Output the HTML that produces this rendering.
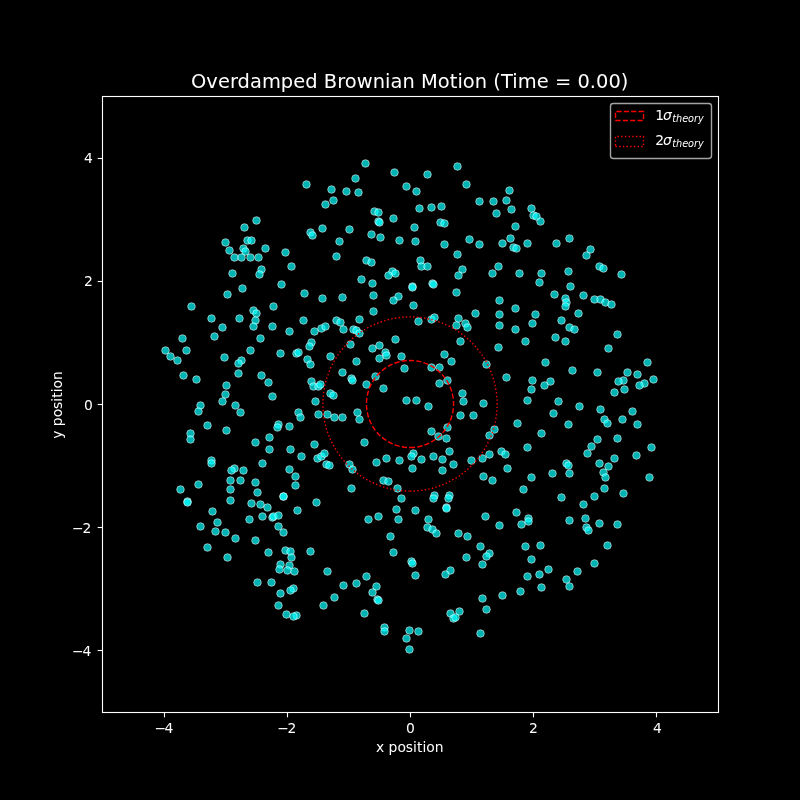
<!DOCTYPE html>
<html lang="en"><head><meta charset="utf-8"><title>Overdamped Brownian Motion</title>
<style>
html,body{margin:0;padding:0;background:#000;width:800px;height:800px;overflow:hidden}
svg{display:block}
text{font-family:"DejaVu Sans","Liberation Sans",sans-serif;fill:#fff}
.tk{font-size:13.89px}
.ob{font-style:oblique}
.sub{font-size:9.72px;font-style:oblique}
.p circle{fill:#0ff;fill-opacity:.7;stroke:#fff;stroke-opacity:.7;stroke-width:.75}
</style></head><body>
<svg width="800" height="800" viewBox="0 0 800 800">
<rect width="800" height="800" fill="#000"/>
<g class="p"><circle cx="306.5" cy="184.5" r="3.80"/><circle cx="325.5" cy="204.5" r="3.80"/><circle cx="322.5" cy="228.5" r="3.80"/><circle cx="310.5" cy="232.5" r="3.80"/><circle cx="312.5" cy="235.5" r="3.80"/><circle cx="256.5" cy="220.5" r="3.80"/><circle cx="244.5" cy="227.5" r="3.80"/><circle cx="247.5" cy="240.5" r="3.80"/><circle cx="251.5" cy="240.5" r="3.80"/><circle cx="225.5" cy="242.5" r="3.80"/><circle cx="229.5" cy="250.5" r="3.80"/><circle cx="243.5" cy="248.5" r="3.80"/><circle cx="245.5" cy="251.5" r="3.80"/><circle cx="265.5" cy="248.5" r="3.80"/><circle cx="285.5" cy="252.5" r="3.80"/><circle cx="234.5" cy="257.5" r="3.80"/><circle cx="241.5" cy="257.5" r="3.80"/><circle cx="250.5" cy="257.5" r="3.80"/><circle cx="258.5" cy="257.5" r="3.80"/><circle cx="291.5" cy="266.5" r="3.80"/><circle cx="261.5" cy="269.5" r="3.80"/><circle cx="259.5" cy="274.5" r="3.80"/><circle cx="232.5" cy="273.5" r="3.80"/><circle cx="281.5" cy="284.5" r="3.80"/><circle cx="242.5" cy="288.5" r="3.80"/><circle cx="227.5" cy="294.5" r="3.80"/><circle cx="304.5" cy="293.5" r="3.80"/><circle cx="322.5" cy="298.5" r="3.80"/><circle cx="191.5" cy="306.5" r="3.80"/><circle cx="273.5" cy="306.5" r="3.80"/><circle cx="253.5" cy="310.5" r="3.80"/><circle cx="256.5" cy="313.5" r="3.80"/><circle cx="211.5" cy="318.5" r="3.80"/><circle cx="239.5" cy="318.5" r="3.80"/><circle cx="255.5" cy="320.5" r="3.80"/><circle cx="303.5" cy="320.5" r="3.80"/><circle cx="365.5" cy="163.5" r="3.80"/><circle cx="457.5" cy="166.5" r="3.80"/><circle cx="394.5" cy="172.5" r="3.80"/><circle cx="427.5" cy="174.5" r="3.80"/><circle cx="355.5" cy="178.5" r="3.80"/><circle cx="466.5" cy="184.5" r="3.80"/><circle cx="406.5" cy="186.5" r="3.80"/><circle cx="331.5" cy="189.5" r="3.80"/><circle cx="346.5" cy="191.5" r="3.80"/><circle cx="358.5" cy="192.5" r="3.80"/><circle cx="416.5" cy="191.5" r="3.80"/><circle cx="333.5" cy="200.5" r="3.80"/><circle cx="479.5" cy="201.5" r="3.80"/><circle cx="493.5" cy="201.5" r="3.80"/><circle cx="419.5" cy="208.5" r="3.80"/><circle cx="431.5" cy="207.5" r="3.80"/><circle cx="441.5" cy="206.5" r="3.80"/><circle cx="374.5" cy="211.5" r="3.80"/><circle cx="378.5" cy="212.5" r="3.80"/><circle cx="496.5" cy="213.5" r="3.80"/><circle cx="393.5" cy="218.5" r="3.80"/><circle cx="378.5" cy="221.5" r="3.80"/><circle cx="379.5" cy="222.5" r="3.80"/><circle cx="440.5" cy="222.5" r="3.80"/><circle cx="444.5" cy="223.5" r="3.80"/><circle cx="414.5" cy="227.5" r="3.80"/><circle cx="349.5" cy="229.5" r="3.80"/><circle cx="371.5" cy="234.5" r="3.80"/><circle cx="380.5" cy="237.5" r="3.80"/><circle cx="399.5" cy="240.5" r="3.80"/><circle cx="415.5" cy="241.5" r="3.80"/><circle cx="339.5" cy="241.5" r="3.80"/><circle cx="469.5" cy="239.5" r="3.80"/><circle cx="479.5" cy="244.5" r="3.80"/><circle cx="444.5" cy="244.5" r="3.80"/><circle cx="457.5" cy="254.5" r="3.80"/><circle cx="336.5" cy="256.5" r="3.80"/><circle cx="366.5" cy="260.5" r="3.80"/><circle cx="371.5" cy="262.5" r="3.80"/><circle cx="420.5" cy="260.5" r="3.80"/><circle cx="421.5" cy="266.5" r="3.80"/><circle cx="427.5" cy="266.5" r="3.80"/><circle cx="462.5" cy="269.5" r="3.80"/><circle cx="458.5" cy="275.5" r="3.80"/><circle cx="492.5" cy="273.5" r="3.80"/><circle cx="392.5" cy="271.5" r="3.80"/><circle cx="395.5" cy="273.5" r="3.80"/><circle cx="388.5" cy="275.5" r="3.80"/><circle cx="361.5" cy="279.5" r="3.80"/><circle cx="372.5" cy="283.5" r="3.80"/><circle cx="412.5" cy="286.5" r="3.80"/><circle cx="412.5" cy="287.5" r="3.80"/><circle cx="432.5" cy="283.5" r="3.80"/><circle cx="433.5" cy="284.5" r="3.80"/><circle cx="456.5" cy="292.5" r="3.80"/><circle cx="342.5" cy="297.5" r="3.80"/><circle cx="373.5" cy="295.5" r="3.80"/><circle cx="398.5" cy="296.5" r="3.80"/><circle cx="393.5" cy="300.5" r="3.80"/><circle cx="413.5" cy="305.5" r="3.80"/><circle cx="373.5" cy="311.5" r="3.80"/><circle cx="475.5" cy="313.5" r="3.80"/><circle cx="359.5" cy="319.5" r="3.80"/><circle cx="336.5" cy="320.5" r="3.80"/><circle cx="340.5" cy="322.5" r="3.80"/><circle cx="418.5" cy="321.5" r="3.80"/><circle cx="431.5" cy="319.5" r="3.80"/><circle cx="434.5" cy="317.5" r="3.80"/><circle cx="458.5" cy="318.5" r="3.80"/><circle cx="509.5" cy="190.5" r="3.80"/><circle cx="506.5" cy="200.5" r="3.80"/><circle cx="511.5" cy="209.5" r="3.80"/><circle cx="531.5" cy="208.5" r="3.80"/><circle cx="533.5" cy="215.5" r="3.80"/><circle cx="536.5" cy="216.5" r="3.80"/><circle cx="540.5" cy="221.5" r="3.80"/><circle cx="515.5" cy="226.5" r="3.80"/><circle cx="569.5" cy="238.5" r="3.80"/><circle cx="510.5" cy="238.5" r="3.80"/><circle cx="502.5" cy="243.5" r="3.80"/><circle cx="527.5" cy="243.5" r="3.80"/><circle cx="556.5" cy="243.5" r="3.80"/><circle cx="513.5" cy="247.5" r="3.80"/><circle cx="516.5" cy="248.5" r="3.80"/><circle cx="590.5" cy="249.5" r="3.80"/><circle cx="586.5" cy="255.5" r="3.80"/><circle cx="498.5" cy="266.5" r="3.80"/><circle cx="599.5" cy="266.5" r="3.80"/><circle cx="603.5" cy="268.5" r="3.80"/><circle cx="621.5" cy="274.5" r="3.80"/><circle cx="519.5" cy="273.5" r="3.80"/><circle cx="541.5" cy="273.5" r="3.80"/><circle cx="568.5" cy="271.5" r="3.80"/><circle cx="539.5" cy="282.5" r="3.80"/><circle cx="570.5" cy="286.5" r="3.80"/><circle cx="554.5" cy="294.5" r="3.80"/><circle cx="583.5" cy="295.5" r="3.80"/><circle cx="565.5" cy="298.5" r="3.80"/><circle cx="566.5" cy="302.5" r="3.80"/><circle cx="565.5" cy="306.5" r="3.80"/><circle cx="594.5" cy="299.5" r="3.80"/><circle cx="600.5" cy="299.5" r="3.80"/><circle cx="605.5" cy="302.5" r="3.80"/><circle cx="611.5" cy="304.5" r="3.80"/><circle cx="499.5" cy="300.5" r="3.80"/><circle cx="515.5" cy="308.5" r="3.80"/><circle cx="499.5" cy="314.5" r="3.80"/><circle cx="535.5" cy="314.5" r="3.80"/><circle cx="578.5" cy="313.5" r="3.80"/><circle cx="561.5" cy="320.5" r="3.80"/><circle cx="532.5" cy="323.5" r="3.80"/><circle cx="222.5" cy="327.5" r="3.80"/><circle cx="253.5" cy="326.5" r="3.80"/><circle cx="272.5" cy="326.5" r="3.80"/><circle cx="289.5" cy="331.5" r="3.80"/><circle cx="314.5" cy="331.5" r="3.80"/><circle cx="321.5" cy="328.5" r="3.80"/><circle cx="325.5" cy="326.5" r="3.80"/><circle cx="182.5" cy="338.5" r="3.80"/><circle cx="214.5" cy="336.5" r="3.80"/><circle cx="260.5" cy="338.5" r="3.80"/><circle cx="311.5" cy="342.5" r="3.80"/><circle cx="309.5" cy="346.5" r="3.80"/><circle cx="165.5" cy="350.5" r="3.80"/><circle cx="186.5" cy="350.5" r="3.80"/><circle cx="250.5" cy="350.5" r="3.80"/><circle cx="280.5" cy="353.5" r="3.80"/><circle cx="296.5" cy="353.5" r="3.80"/><circle cx="298.5" cy="352.5" r="3.80"/><circle cx="170.5" cy="356.5" r="3.80"/><circle cx="177.5" cy="360.5" r="3.80"/><circle cx="224.5" cy="357.5" r="3.80"/><circle cx="241.5" cy="360.5" r="3.80"/><circle cx="238.5" cy="363.5" r="3.80"/><circle cx="307.5" cy="359.5" r="3.80"/><circle cx="310.5" cy="364.5" r="3.80"/><circle cx="183.5" cy="375.5" r="3.80"/><circle cx="196.5" cy="379.5" r="3.80"/><circle cx="238.5" cy="373.5" r="3.80"/><circle cx="261.5" cy="375.5" r="3.80"/><circle cx="268.5" cy="382.5" r="3.80"/><circle cx="311.5" cy="381.5" r="3.80"/><circle cx="313.5" cy="386.5" r="3.80"/><circle cx="318.5" cy="386.5" r="3.80"/><circle cx="320.5" cy="384.5" r="3.80"/><circle cx="226.5" cy="385.5" r="3.80"/><circle cx="225.5" cy="394.5" r="3.80"/><circle cx="222.5" cy="401.5" r="3.80"/><circle cx="272.5" cy="396.5" r="3.80"/><circle cx="315.5" cy="401.5" r="3.80"/><circle cx="200.5" cy="405.5" r="3.80"/><circle cx="198.5" cy="411.5" r="3.80"/><circle cx="235.5" cy="405.5" r="3.80"/><circle cx="240.5" cy="412.5" r="3.80"/><circle cx="298.5" cy="412.5" r="3.80"/><circle cx="300.5" cy="417.5" r="3.80"/><circle cx="318.5" cy="414.5" r="3.80"/><circle cx="327.5" cy="414.5" r="3.80"/><circle cx="207.5" cy="425.5" r="3.80"/><circle cx="226.5" cy="430.5" r="3.80"/><circle cx="278.5" cy="424.5" r="3.80"/><circle cx="277.5" cy="427.5" r="3.80"/><circle cx="289.5" cy="426.5" r="3.80"/><circle cx="190.5" cy="433.5" r="3.80"/><circle cx="190.5" cy="439.5" r="3.80"/><circle cx="269.5" cy="437.5" r="3.80"/><circle cx="255.5" cy="442.5" r="3.80"/><circle cx="269.5" cy="449.5" r="3.80"/><circle cx="290.5" cy="449.5" r="3.80"/><circle cx="314.5" cy="444.5" r="3.80"/><circle cx="301.5" cy="456.5" r="3.80"/><circle cx="317.5" cy="458.5" r="3.80"/><circle cx="321.5" cy="456.5" r="3.80"/><circle cx="324.5" cy="453.5" r="3.80"/><circle cx="326.5" cy="464.5" r="3.80"/><circle cx="211.5" cy="460.5" r="3.80"/><circle cx="211.5" cy="463.5" r="3.80"/><circle cx="262.5" cy="463.5" r="3.80"/><circle cx="234.5" cy="468.5" r="3.80"/><circle cx="231.5" cy="470.5" r="3.80"/><circle cx="243.5" cy="470.5" r="3.80"/><circle cx="289.5" cy="469.5" r="3.80"/><circle cx="295.5" cy="476.5" r="3.80"/><circle cx="230.5" cy="480.5" r="3.80"/><circle cx="240.5" cy="480.5" r="3.80"/><circle cx="255.5" cy="482.5" r="3.80"/><circle cx="198.5" cy="484.5" r="3.80"/><circle cx="180.5" cy="489.5" r="3.80"/><circle cx="230.5" cy="489.5" r="3.80"/><circle cx="295.5" cy="485.5" r="3.80"/><circle cx="257.5" cy="492.5" r="3.80"/><circle cx="343.5" cy="329.5" r="3.80"/><circle cx="353.5" cy="329.5" r="3.80"/><circle cx="356.5" cy="330.5" r="3.80"/><circle cx="359.5" cy="333.5" r="3.80"/><circle cx="456.5" cy="325.5" r="3.80"/><circle cx="465.5" cy="323.5" r="3.80"/><circle cx="467.5" cy="327.5" r="3.80"/><circle cx="395.5" cy="339.5" r="3.80"/><circle cx="460.5" cy="341.5" r="3.80"/><circle cx="350.5" cy="344.5" r="3.80"/><circle cx="379.5" cy="345.5" r="3.80"/><circle cx="372.5" cy="348.5" r="3.80"/><circle cx="498.5" cy="347.5" r="3.80"/><circle cx="330.5" cy="356.5" r="3.80"/><circle cx="385.5" cy="352.5" r="3.80"/><circle cx="386.5" cy="355.5" r="3.80"/><circle cx="379.5" cy="358.5" r="3.80"/><circle cx="401.5" cy="356.5" r="3.80"/><circle cx="444.5" cy="354.5" r="3.80"/><circle cx="451.5" cy="361.5" r="3.80"/><circle cx="356.5" cy="361.5" r="3.80"/><circle cx="486.5" cy="364.5" r="3.80"/><circle cx="404.5" cy="368.5" r="3.80"/><circle cx="431.5" cy="367.5" r="3.80"/><circle cx="439.5" cy="367.5" r="3.80"/><circle cx="342.5" cy="372.5" r="3.80"/><circle cx="375.5" cy="376.5" r="3.80"/><circle cx="351.5" cy="378.5" r="3.80"/><circle cx="352.5" cy="380.5" r="3.80"/><circle cx="447.5" cy="380.5" r="3.80"/><circle cx="439.5" cy="383.5" r="3.80"/><circle cx="366.5" cy="384.5" r="3.80"/><circle cx="383.5" cy="388.5" r="3.80"/><circle cx="330.5" cy="393.5" r="3.80"/><circle cx="333.5" cy="395.5" r="3.80"/><circle cx="406.5" cy="400.5" r="3.80"/><circle cx="416.5" cy="400.5" r="3.80"/><circle cx="428.5" cy="406.5" r="3.80"/><circle cx="462.5" cy="393.5" r="3.80"/><circle cx="463.5" cy="401.5" r="3.80"/><circle cx="483.5" cy="403.5" r="3.80"/><circle cx="357.5" cy="412.5" r="3.80"/><circle cx="334.5" cy="417.5" r="3.80"/><circle cx="342.5" cy="417.5" r="3.80"/><circle cx="359.5" cy="419.5" r="3.80"/><circle cx="460.5" cy="415.5" r="3.80"/><circle cx="473.5" cy="415.5" r="3.80"/><circle cx="447.5" cy="427.5" r="3.80"/><circle cx="431.5" cy="431.5" r="3.80"/><circle cx="438.5" cy="436.5" r="3.80"/><circle cx="446.5" cy="438.5" r="3.80"/><circle cx="494.5" cy="429.5" r="3.80"/><circle cx="489.5" cy="435.5" r="3.80"/><circle cx="364.5" cy="442.5" r="3.80"/><circle cx="449.5" cy="451.5" r="3.80"/><circle cx="413.5" cy="453.5" r="3.80"/><circle cx="411.5" cy="456.5" r="3.80"/><circle cx="433.5" cy="456.5" r="3.80"/><circle cx="386.5" cy="458.5" r="3.80"/><circle cx="399.5" cy="460.5" r="3.80"/><circle cx="421.5" cy="459.5" r="3.80"/><circle cx="442.5" cy="459.5" r="3.80"/><circle cx="376.5" cy="462.5" r="3.80"/><circle cx="453.5" cy="464.5" r="3.80"/><circle cx="471.5" cy="460.5" r="3.80"/><circle cx="482.5" cy="458.5" r="3.80"/><circle cx="489.5" cy="454.5" r="3.80"/><circle cx="329.5" cy="465.5" r="3.80"/><circle cx="412.5" cy="468.5" r="3.80"/><circle cx="442.5" cy="470.5" r="3.80"/><circle cx="349.5" cy="464.5" r="3.80"/><circle cx="352.5" cy="469.5" r="3.80"/><circle cx="483.5" cy="476.5" r="3.80"/><circle cx="492.5" cy="480.5" r="3.80"/><circle cx="383.5" cy="480.5" r="3.80"/><circle cx="388.5" cy="481.5" r="3.80"/><circle cx="351.5" cy="488.5" r="3.80"/><circle cx="397.5" cy="488.5" r="3.80"/><circle cx="499.5" cy="325.5" r="3.80"/><circle cx="515.5" cy="329.5" r="3.80"/><circle cx="569.5" cy="327.5" r="3.80"/><circle cx="574.5" cy="329.5" r="3.80"/><circle cx="617.5" cy="334.5" r="3.80"/><circle cx="555.5" cy="337.5" r="3.80"/><circle cx="565.5" cy="341.5" r="3.80"/><circle cx="525.5" cy="341.5" r="3.80"/><circle cx="608.5" cy="348.5" r="3.80"/><circle cx="545.5" cy="362.5" r="3.80"/><circle cx="647.5" cy="362.5" r="3.80"/><circle cx="572.5" cy="370.5" r="3.80"/><circle cx="597.5" cy="372.5" r="3.80"/><circle cx="627.5" cy="372.5" r="3.80"/><circle cx="637.5" cy="374.5" r="3.80"/><circle cx="506.5" cy="377.5" r="3.80"/><circle cx="532.5" cy="380.5" r="3.80"/><circle cx="550.5" cy="381.5" r="3.80"/><circle cx="544.5" cy="385.5" r="3.80"/><circle cx="623.5" cy="380.5" r="3.80"/><circle cx="618.5" cy="381.5" r="3.80"/><circle cx="653.5" cy="379.5" r="3.80"/><circle cx="644.5" cy="383.5" r="3.80"/><circle cx="639.5" cy="385.5" r="3.80"/><circle cx="531.5" cy="389.5" r="3.80"/><circle cx="624.5" cy="389.5" r="3.80"/><circle cx="614.5" cy="392.5" r="3.80"/><circle cx="527.5" cy="400.5" r="3.80"/><circle cx="558.5" cy="401.5" r="3.80"/><circle cx="579.5" cy="406.5" r="3.80"/><circle cx="600.5" cy="409.5" r="3.80"/><circle cx="632.5" cy="411.5" r="3.80"/><circle cx="553.5" cy="413.5" r="3.80"/><circle cx="604.5" cy="419.5" r="3.80"/><circle cx="607.5" cy="423.5" r="3.80"/><circle cx="622.5" cy="419.5" r="3.80"/><circle cx="517.5" cy="423.5" r="3.80"/><circle cx="568.5" cy="424.5" r="3.80"/><circle cx="637.5" cy="424.5" r="3.80"/><circle cx="541.5" cy="433.5" r="3.80"/><circle cx="597.5" cy="439.5" r="3.80"/><circle cx="617.5" cy="438.5" r="3.80"/><circle cx="591.5" cy="446.5" r="3.80"/><circle cx="527.5" cy="447.5" r="3.80"/><circle cx="651.5" cy="447.5" r="3.80"/><circle cx="501.5" cy="451.5" r="3.80"/><circle cx="505.5" cy="454.5" r="3.80"/><circle cx="587.5" cy="453.5" r="3.80"/><circle cx="636.5" cy="455.5" r="3.80"/><circle cx="614.5" cy="458.5" r="3.80"/><circle cx="599.5" cy="463.5" r="3.80"/><circle cx="566.5" cy="463.5" r="3.80"/><circle cx="568.5" cy="465.5" r="3.80"/><circle cx="608.5" cy="466.5" r="3.80"/><circle cx="507.5" cy="468.5" r="3.80"/><circle cx="552.5" cy="473.5" r="3.80"/><circle cx="569.5" cy="473.5" r="3.80"/><circle cx="603.5" cy="472.5" r="3.80"/><circle cx="605.5" cy="477.5" r="3.80"/><circle cx="531.5" cy="477.5" r="3.80"/><circle cx="649.5" cy="477.5" r="3.80"/><circle cx="604.5" cy="488.5" r="3.80"/><circle cx="523.5" cy="489.5" r="3.80"/><circle cx="623.5" cy="493.5" r="3.80"/><circle cx="187.5" cy="501.5" r="3.80"/><circle cx="187.5" cy="502.5" r="3.80"/><circle cx="230.5" cy="500.5" r="3.80"/><circle cx="283.5" cy="496.5" r="3.80"/><circle cx="283.5" cy="496.5" r="3.80"/><circle cx="316.5" cy="502.5" r="3.80"/><circle cx="251.5" cy="503.5" r="3.80"/><circle cx="260.5" cy="504.5" r="3.80"/><circle cx="267.5" cy="507.5" r="3.80"/><circle cx="212.5" cy="511.5" r="3.80"/><circle cx="297.5" cy="510.5" r="3.80"/><circle cx="262.5" cy="516.5" r="3.80"/><circle cx="249.5" cy="519.5" r="3.80"/><circle cx="272.5" cy="517.5" r="3.80"/><circle cx="273.5" cy="516.5" r="3.80"/><circle cx="278.5" cy="515.5" r="3.80"/><circle cx="217.5" cy="522.5" r="3.80"/><circle cx="200.5" cy="526.5" r="3.80"/><circle cx="278.5" cy="526.5" r="3.80"/><circle cx="215.5" cy="531.5" r="3.80"/><circle cx="225.5" cy="532.5" r="3.80"/><circle cx="283.5" cy="532.5" r="3.80"/><circle cx="235.5" cy="538.5" r="3.80"/><circle cx="255.5" cy="540.5" r="3.80"/><circle cx="207.5" cy="547.5" r="3.80"/><circle cx="268.5" cy="552.5" r="3.80"/><circle cx="285.5" cy="550.5" r="3.80"/><circle cx="290.5" cy="551.5" r="3.80"/><circle cx="291.5" cy="557.5" r="3.80"/><circle cx="310.5" cy="551.5" r="3.80"/><circle cx="227.5" cy="557.5" r="3.80"/><circle cx="280.5" cy="564.5" r="3.80"/><circle cx="289.5" cy="565.5" r="3.80"/><circle cx="279.5" cy="569.5" r="3.80"/><circle cx="287.5" cy="570.5" r="3.80"/><circle cx="294.5" cy="571.5" r="3.80"/><circle cx="327.5" cy="571.5" r="3.80"/><circle cx="257.5" cy="582.5" r="3.80"/><circle cx="271.5" cy="582.5" r="3.80"/><circle cx="293.5" cy="588.5" r="3.80"/><circle cx="290.5" cy="590.5" r="3.80"/><circle cx="280.5" cy="593.5" r="3.80"/><circle cx="278.5" cy="605.5" r="3.80"/><circle cx="323.5" cy="605.5" r="3.80"/><circle cx="286.5" cy="614.5" r="3.80"/><circle cx="296.5" cy="615.5" r="3.80"/><circle cx="293.5" cy="616.5" r="3.80"/><circle cx="401.5" cy="498.5" r="3.80"/><circle cx="434.5" cy="495.5" r="3.80"/><circle cx="433.5" cy="498.5" r="3.80"/><circle cx="449.5" cy="495.5" r="3.80"/><circle cx="448.5" cy="498.5" r="3.80"/><circle cx="446.5" cy="507.5" r="3.80"/><circle cx="446.5" cy="508.5" r="3.80"/><circle cx="396.5" cy="509.5" r="3.80"/><circle cx="415.5" cy="510.5" r="3.80"/><circle cx="378.5" cy="516.5" r="3.80"/><circle cx="368.5" cy="519.5" r="3.80"/><circle cx="398.5" cy="519.5" r="3.80"/><circle cx="428.5" cy="519.5" r="3.80"/><circle cx="485.5" cy="516.5" r="3.80"/><circle cx="427.5" cy="527.5" r="3.80"/><circle cx="432.5" cy="529.5" r="3.80"/><circle cx="436.5" cy="533.5" r="3.80"/><circle cx="458.5" cy="533.5" r="3.80"/><circle cx="467.5" cy="536.5" r="3.80"/><circle cx="390.5" cy="536.5" r="3.80"/><circle cx="480.5" cy="546.5" r="3.80"/><circle cx="393.5" cy="552.5" r="3.80"/><circle cx="466.5" cy="557.5" r="3.80"/><circle cx="489.5" cy="553.5" r="3.80"/><circle cx="486.5" cy="556.5" r="3.80"/><circle cx="482.5" cy="564.5" r="3.80"/><circle cx="411.5" cy="561.5" r="3.80"/><circle cx="412.5" cy="563.5" r="3.80"/><circle cx="450.5" cy="570.5" r="3.80"/><circle cx="445.5" cy="574.5" r="3.80"/><circle cx="415.5" cy="575.5" r="3.80"/><circle cx="366.5" cy="576.5" r="3.80"/><circle cx="356.5" cy="583.5" r="3.80"/><circle cx="343.5" cy="585.5" r="3.80"/><circle cx="376.5" cy="586.5" r="3.80"/><circle cx="372.5" cy="592.5" r="3.80"/><circle cx="334.5" cy="597.5" r="3.80"/><circle cx="377.5" cy="599.5" r="3.80"/><circle cx="378.5" cy="600.5" r="3.80"/><circle cx="482.5" cy="598.5" r="3.80"/><circle cx="486.5" cy="609.5" r="3.80"/><circle cx="364.5" cy="613.5" r="3.80"/><circle cx="459.5" cy="611.5" r="3.80"/><circle cx="450.5" cy="613.5" r="3.80"/><circle cx="453.5" cy="618.5" r="3.80"/><circle cx="455.5" cy="617.5" r="3.80"/><circle cx="384.5" cy="627.5" r="3.80"/><circle cx="384.5" cy="631.5" r="3.80"/><circle cx="409.5" cy="630.5" r="3.80"/><circle cx="418.5" cy="631.5" r="3.80"/><circle cx="480.5" cy="633.5" r="3.80"/><circle cx="406.5" cy="638.5" r="3.80"/><circle cx="409.5" cy="649.5" r="3.80"/><circle cx="561.5" cy="497.5" r="3.80"/><circle cx="594.5" cy="496.5" r="3.80"/><circle cx="583.5" cy="504.5" r="3.80"/><circle cx="516.5" cy="512.5" r="3.80"/><circle cx="528.5" cy="518.5" r="3.80"/><circle cx="528.5" cy="521.5" r="3.80"/><circle cx="521.5" cy="524.5" r="3.80"/><circle cx="499.5" cy="525.5" r="3.80"/><circle cx="569.5" cy="520.5" r="3.80"/><circle cx="585.5" cy="518.5" r="3.80"/><circle cx="599.5" cy="523.5" r="3.80"/><circle cx="617.5" cy="524.5" r="3.80"/><circle cx="586.5" cy="527.5" r="3.80"/><circle cx="588.5" cy="530.5" r="3.80"/><circle cx="525.5" cy="546.5" r="3.80"/><circle cx="540.5" cy="545.5" r="3.80"/><circle cx="607.5" cy="545.5" r="3.80"/><circle cx="531.5" cy="559.5" r="3.80"/><circle cx="594.5" cy="563.5" r="3.80"/><circle cx="548.5" cy="569.5" r="3.80"/><circle cx="577.5" cy="571.5" r="3.80"/><circle cx="539.5" cy="574.5" r="3.80"/><circle cx="527.5" cy="576.5" r="3.80"/><circle cx="566.5" cy="579.5" r="3.80"/><circle cx="569.5" cy="586.5" r="3.80"/><circle cx="541.5" cy="587.5" r="3.80"/><circle cx="520.5" cy="591.5" r="3.80"/><circle cx="502.5" cy="595.5" r="3.80"/></g>
<path d="M410 447.56 A43.56 43.56 0 0 0 410 360.44 A43.56 43.56 0 0 0 410 447.56" fill="none" stroke="#f00" stroke-width="1.389" stroke-dasharray="5.139 2.222"/>
<path d="M410 491.12 A87.12 87.12 0 0 0 410 316.88 A87.12 87.12 0 0 0 410 491.12" fill="none" stroke="#f00" stroke-width="1.389" stroke-dasharray="1.389 2.292"/>
<g stroke="#fff" stroke-width="1.111" fill="none">
<path d="M164.5 712.5 v4.86"/><path d="M102.5 650.5 h-4.86"/><path d="M287.5 712.5 v4.86"/><path d="M102.5 527.5 h-4.86"/><path d="M410.5 712.5 v4.86"/><path d="M102.5 404.5 h-4.86"/><path d="M533.5 712.5 v4.86"/><path d="M102.5 281.5 h-4.86"/><path d="M656.5 712.5 v4.86"/><path d="M102.5 158.5 h-4.86"/>
<rect x="102.5" y="96.5" width="616" height="616"/>
</g>
<text class="tk" text-anchor="middle" x="163.2" y="733.28"><tspan dx="0.73">−</tspan><tspan dx="-1.47">4</tspan></text><text class="tk" text-anchor="middle" x="286" y="733.28"><tspan dx="0.69">−</tspan><tspan dx="-1.37">2</tspan></text><text class="tk" text-anchor="middle" x="410.5" y="733.28">0</text><text class="tk" text-anchor="middle" x="533.45" y="733.28">2</text><text class="tk" text-anchor="middle" x="657.4" y="733.28">4</text><text class="tk" text-anchor="end" x="91.28" y="655.68"><tspan dx="0">−</tspan><tspan dx="-1.2">4</tspan></text><text class="tk" text-anchor="end" x="91.28" y="533.48"><tspan dx="0">−</tspan><tspan dx="-1.2">2</tspan></text><text class="tk" text-anchor="end" x="92.78" y="410.28">0</text><text class="tk" text-anchor="end" x="92.78" y="286.08">2</text><text class="tk" text-anchor="end" x="92.78" y="162.88">4</text>
<text class="tk" text-anchor="middle" x="409.75" y="752.27">x position</text>
<text class="tk" text-anchor="middle" transform="translate(62.36 405) rotate(-90)">y position</text>
<text text-anchor="middle" font-size="19.44" letter-spacing=".038" x="409.75" y="87.67">Overdamped Brownian Motion (Time = 0.00)</text>
<rect x="610.5" y="103.5" width="101" height="55" rx="2.78" fill="#000" fill-opacity=".8" stroke="#ccc" stroke-opacity=".8" stroke-width="1.389"/>
<path d="M615.5 120.5 H643.5 V111.5 H615.5 V120.5" fill="none" stroke="#f00" stroke-width="1.389" stroke-dasharray="5.139 2.222"/>
<path d="M615.5 146.5 H643.5 V136.5 H615.5 V146.5" fill="none" stroke="#f00" stroke-width="1.389" stroke-dasharray="1.389 2.292"/>
<text class="tk"><tspan x="655.13" y="120.08">1</tspan><tspan class="ob" x="663.11" y="120.08">σ</tspan><tspan class="sub" x="672.17" y="122.36">theory</tspan></text>
<text class="tk"><tspan x="655.13" y="145.05">2</tspan><tspan class="ob" x="663.11" y="145.05">σ</tspan><tspan class="sub" x="672.17" y="147.33">theory</tspan></text>
</svg>
</body></html>
